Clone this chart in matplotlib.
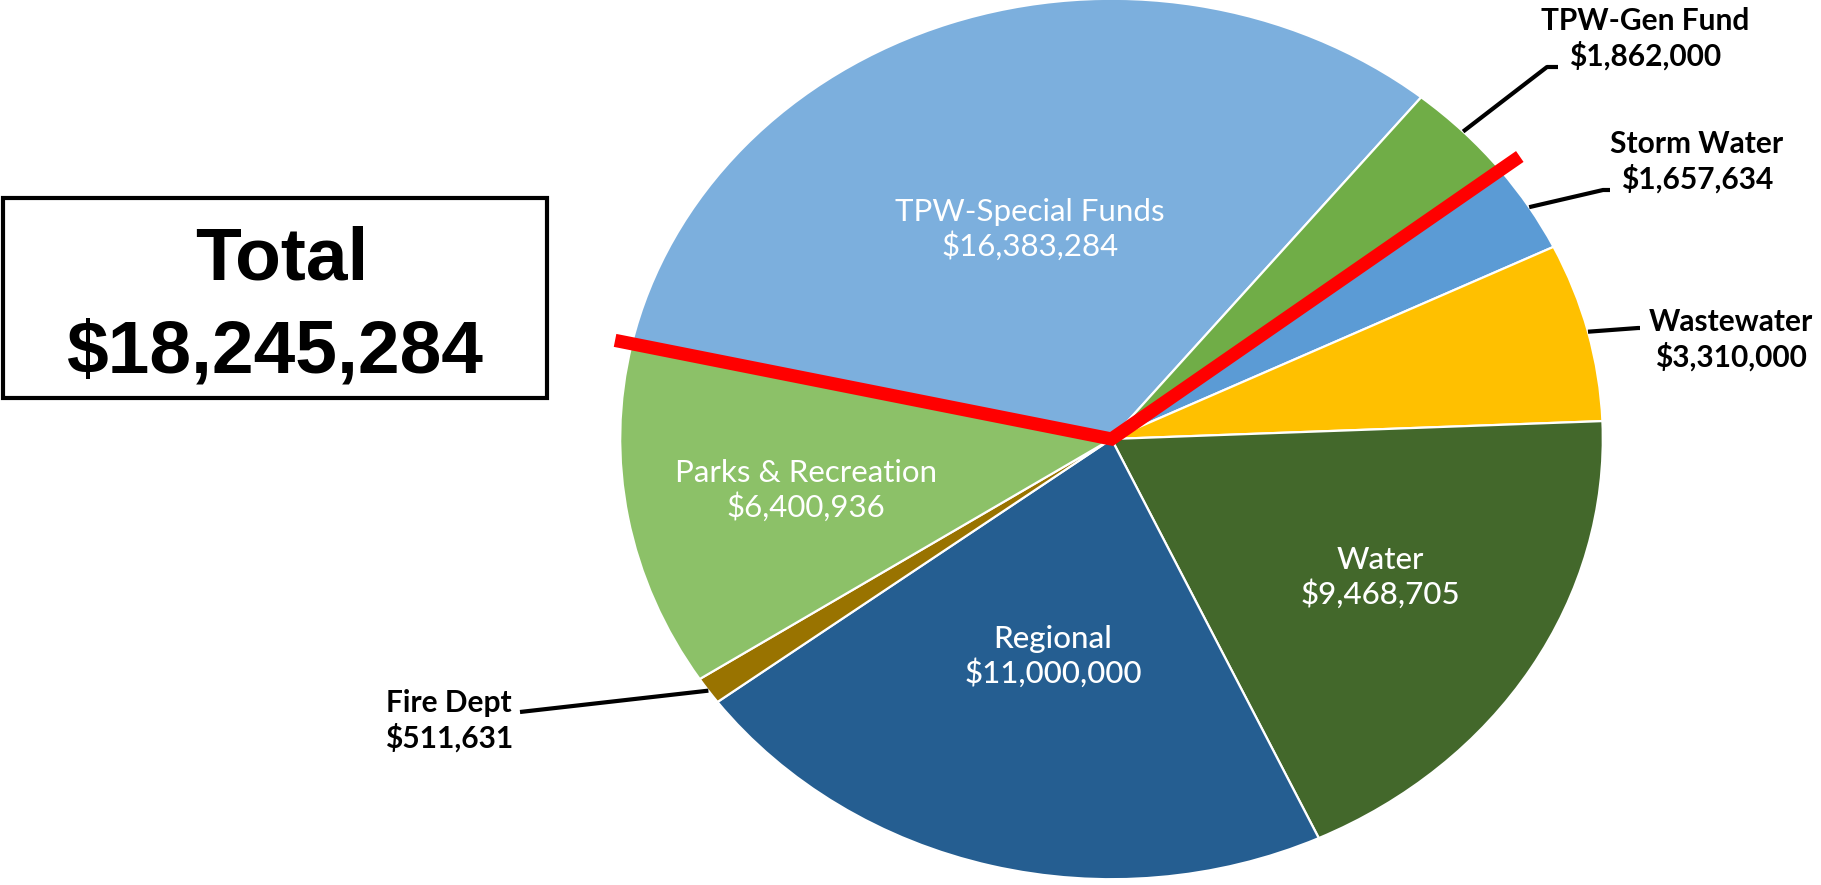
import numpy as np
import matplotlib
matplotlib.use("Agg")
import matplotlib.pyplot as plt

# Budget allocations by department
categories = ["TPW-Special Funds", "TPW-Gen Fund", "Storm Water", "Wastewater",
              "Water", "Regional", "Fire Dept", "Parks & Recreation"]
amounts = [16383284, 1862000, 1657634, 3310000, 9468705, 11000000, 511631, 6400936]
colors = ["#7CAFDD", "#70AD47", "#5B9BD5", "#FFC000",
          "#43682B", "#255E91", "#997300", "#8CC168"]
# TPW total highlighted by the red lines
tpw_total = amounts[0] + amounts[1]

W, H = 1821, 885
fig = plt.figure(figsize=(W / 100, H / 100), dpi=100)
ax = fig.add_axes([0, 0, 1, 1])

# pie centre and radii in pixels (pie is stretched horizontally)
cx, cy, rx, ry = 1111.5, 439.0, 491.3, 440.2


def px(x, y):
    return (x - cx) / rx, (cy - y) / ry


wedges, _ = ax.pie(amounts, colors=colors, startangle=167.5, counterclock=False,
                   radius=1.0, center=(0, 0),
                   wedgeprops=dict(edgecolor="white", linewidth=1.6))
ax.set_aspect("auto")
ax.set_xlim(px(0, 0)[0], px(W, 0)[0])
ax.set_ylim(px(0, H)[1], px(0, 0)[1])
ax.axis("off")


def fmt(v):
    return "${:,}".format(v)


label_font = ["Lato", "DejaVu Sans"]
# labels inside slices: (index, x, y, weight)
inner = [(0, 1030, 229, "normal"), (7, 806, 490, "normal"),
         (5, 1053, 656, "medium"), (4, 1380, 577, "medium")]
for i, x, y, wt in inner:
    ax.text(*px(x, y), f"{categories[i]}\n{fmt(amounts[i])}", color="white",
            ha="center", va="center", fontsize=22.5, fontweight=wt,
            family=label_font, linespacing=1.2)

# outside labels with leader lines: (index, text x, text y, elbow x, elbow y, end x)
outer = [(1, 1645, 39, 1547, 67, 1558),
         (2, 1697, 162, 1603, 190, 1610),
         (3, 1731, 340, 1638, 328, 1640),
         (6, 449, 721, 520, 712, 520)]
for i, tx, ty, ex, ey, endx in outer:
    w = wedges[i]
    mid = np.deg2rad((w.theta1 + w.theta2) / 2)
    sx, sy = np.cos(mid) * 1.0, np.sin(mid) * 1.0
    p1 = px(ex, ey)
    p2 = px(endx, ey)
    ax.plot([sx, p1[0], p2[0]], [sy, p1[1], p2[1]], color="black", lw=3,
            solid_capstyle="butt", zorder=5)
    ax.text(*px(tx, ty), f"{categories[i]}\n{fmt(amounts[i])}", color="black",
            ha="center", va="center", fontsize=21.5, fontweight="bold",
            family=label_font, linespacing=1.25)

# red lines bounding the TPW share
a_start = np.deg2rad(167.5)
a_end = np.deg2rad(167.5 - 360.0 * tpw_total / sum(amounts))
ax.plot([np.cos(a_start) * 1.035, 0, np.cos(a_end) * 1.05],
        [np.sin(a_start) * 1.035, 0, np.sin(a_end) * 1.05],
        color="#FF0000", lw=9.5, solid_joinstyle="miter", solid_capstyle="butt",
        zorder=6)

# total box
x0, y0 = px(3, 398)
x1, y1 = px(547, 198)
ax.add_patch(plt.Rectangle((x0, y0), x1 - x0, y1 - y0, fill=False,
                           edgecolor="black", lw=3, zorder=7))
total_font = ["Liberation Sans", "DejaVu Sans"]
ax.text(*px(282, 280), "Total", ha="center", va="baseline", fontsize=54,
        fontweight="bold", family=total_font)
ax.text(*px(274, 372), fmt(tpw_total), ha="center", va="baseline",
        fontsize=54, fontweight="bold", family=total_font)

fig.savefig("out.png", dpi=100)
